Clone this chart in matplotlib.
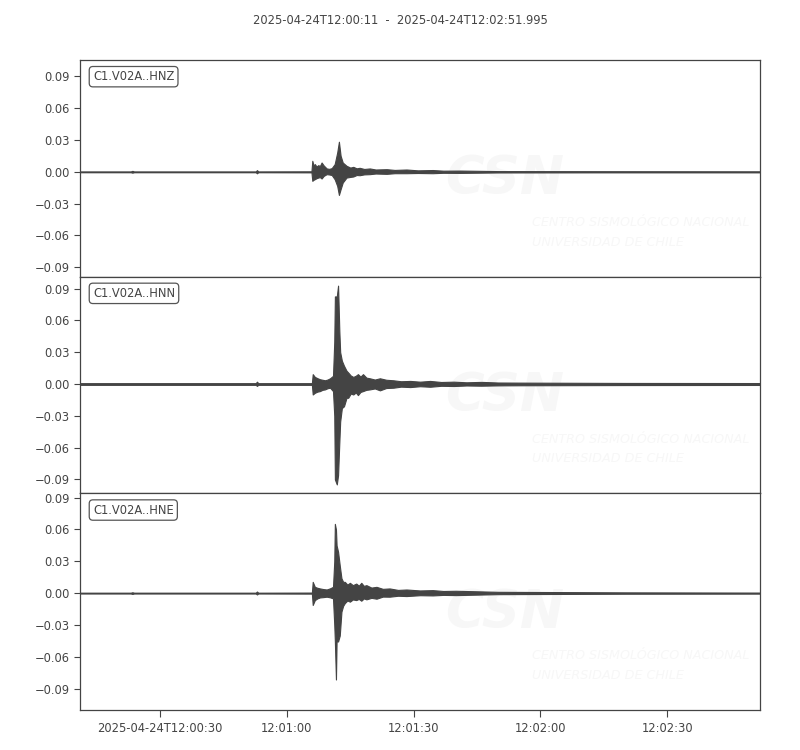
import matplotlib
matplotlib.use('Agg')
import matplotlib.pyplot as plt
import numpy as np

# envelope of each trace, seconds after 2025-04-24T12:00:00 (max / min per time step)
hnz_t = [11.0, 23.0, 23.4, 23.8, 52.6, 52.9, 53.2, 65.8, 66.0, 66.3, 66.6, 67.0, 67.4, 67.8,
         68.2, 68.7, 69.4, 70.0, 70.6, 71.3, 71.9, 72.3, 72.7, 73.2, 74.1, 75.0, 75.7, 76.5,
         77.2, 78.3, 79.6, 81.0, 83.6, 85.5, 88.3, 91.0, 94.5, 97.0, 100.9, 110.0, 134.0,
         171.995]
hnz_max = [0.0004, 0.0004, 0.0009, 0.0004, 0.0004, 0.0016, 0.0004, 0.0005, 0.0104, 0.0060,
           0.0073, 0.0050, 0.0063, 0.0055, 0.0088, 0.0060, 0.0032, 0.0028, 0.0035, 0.0073,
           0.0183, 0.0284, 0.0152, 0.0088, 0.0057, 0.0040, 0.0047, 0.0033, 0.0038, 0.0027,
           0.0032, 0.0022, 0.0025, 0.0018, 0.0022, 0.0014, 0.0017, 0.0011, 0.0012, 0.0007,
           0.0006, 0.0005]
hnz_min = [-0.0004, -0.0004, -0.0008, -0.0004, -0.0004, -0.0014, -0.0004, -0.0005, -0.0085,
           -0.0075, -0.0069, -0.0060, -0.0054, -0.0050, -0.0063, -0.0038, -0.0022, -0.0025,
           -0.0030, -0.0070, -0.0133, -0.0218, -0.0164, -0.0101, -0.0054, -0.0048, -0.0044,
           -0.0030, -0.0032, -0.0024, -0.0022, -0.0016, -0.0019, -0.0013, -0.0013, -0.0011,
           -0.0013, -0.0009, -0.0010, -0.0006, -0.0005, -0.0005]

hnn_t = [11.0, 52.6, 52.9, 53.2, 65.9, 66.1, 66.6, 67.2, 67.8, 68.4, 69.0, 69.6, 70.2, 70.9,
         71.2, 71.35, 71.8, 72.1, 72.4, 72.6, 73.0, 73.5, 74.1, 74.5, 75.1, 75.7, 76.3, 76.8,
         77.4, 78.0, 78.8, 79.6, 80.8, 82.0, 83.5, 85.2, 87.0, 89.2, 91.5, 93.9, 96.5, 99.5,
         102.5, 106.0, 110.0, 115.0, 140.0, 171.995]
hnn_max = [0.0008, 0.0008, 0.0022, 0.0008, 0.0008, 0.0093, 0.0067, 0.0055, 0.0045, 0.0040,
           0.0035, 0.0042, 0.0054, 0.0077, 0.0400, 0.0826, 0.0826, 0.0928, 0.0500, 0.0300,
           0.0220, 0.0172, 0.0125, 0.0108, 0.0080, 0.0067, 0.0078, 0.0093, 0.0070, 0.0093,
           0.0060, 0.0054, 0.0042, 0.0054, 0.0040, 0.0035, 0.0026, 0.0029, 0.0022, 0.0029,
           0.0019, 0.0022, 0.0016, 0.0020, 0.0014, 0.0013, 0.0010, 0.0009]
hnn_min = [-0.0008, -0.0008, -0.0018, -0.0008, -0.0008, -0.0099, -0.0083, -0.0072, -0.0067,
           -0.0055, -0.0051, -0.0040, -0.0035, -0.0067, -0.0300, -0.0900, -0.0947, -0.0860,
           -0.0550, -0.0354, -0.0227, -0.0210, -0.0130, -0.0130, -0.0090, -0.0099, -0.0080,
           -0.0105, -0.0075, -0.0067, -0.0055, -0.0051, -0.0042, -0.0060, -0.0038, -0.0035,
           -0.0025, -0.0029, -0.0021, -0.0026, -0.0017, -0.0019, -0.0014, -0.0016, -0.0013,
           -0.0012, -0.0010, -0.0009]

hne_t = [11.0, 23.0, 23.4, 23.8, 52.6, 52.9, 53.2, 65.9, 66.1, 66.6, 67.2, 67.8, 68.6, 69.4,
         70.2, 70.9, 71.2, 71.34, 71.6, 71.75, 72.1, 72.5, 72.9, 73.3, 73.7, 74.3, 74.9, 75.6,
         76.4, 77.0, 77.6, 78.2, 78.8, 80.0, 81.2, 82.7, 84.3, 86.3, 88.3, 91.5, 94.5, 97.0,
         100.0, 110.0, 140.0, 171.995]
hne_max = [0.0004, 0.0004, 0.0008, 0.0004, 0.0004, 0.0015, 0.0004, 0.0005, 0.0106, 0.0059,
           0.0050, 0.0044, 0.0038, 0.0034, 0.0045, 0.0059, 0.0300, 0.0653, 0.0600, 0.0450,
           0.0390, 0.0260, 0.0140, 0.0106, 0.0106, 0.0080, 0.0097, 0.0075, 0.0090, 0.0070,
           0.0097, 0.0068, 0.0075, 0.0052, 0.0059, 0.0040, 0.0044, 0.0030, 0.0034, 0.0025,
           0.0028, 0.0020, 0.0022, 0.0012, 0.0007, 0.0005]
hne_min = [-0.0004, -0.0004, -0.0008, -0.0004, -0.0004, -0.0013, -0.0004, -0.0005, -0.0112,
           -0.0066, -0.0050, -0.0041, -0.0038, -0.0034, -0.0040, -0.0050, -0.0300, -0.0450,
           -0.0815, -0.0456, -0.0456, -0.0400, -0.0175, -0.0120, -0.0094, -0.0070, -0.0081,
           -0.0060, -0.0066, -0.0055, -0.0072, -0.0050, -0.0059, -0.0045, -0.0053, -0.0033,
           -0.0034, -0.0025, -0.0028, -0.0020, -0.0022, -0.0017, -0.0019, -0.0010, -0.0006,
           -0.0005]

channels = ['C1.V02A..HNZ', 'C1.V02A..HNN', 'C1.V02A..HNE']
t_start, t_end = 11.0, 171.995
title = '2025-04-24T12:00:11  -  2025-04-24T12:02:51.995'
y_ticks = [-0.09, -0.06, -0.03, 0.0, 0.03, 0.06, 0.09]
x_ticks = [30, 60, 90, 120, 150]
x_ticklabels = ['2025-04-24T12:00:30', '12:01:00', '12:01:30', '12:02:00', '12:02:30']

gray = '#444444'
mark = '#f7f7f7'
fs = 8.3
plt.rcParams['font.family'] = 'DejaVu Sans'
plt.rcParams['text.color'] = gray
plt.rcParams['axes.edgecolor'] = gray
plt.rcParams['xtick.color'] = gray
plt.rcParams['ytick.color'] = gray

traces = [(hnz_t, hnz_max, hnz_min), (hnn_t, hnn_max, hnn_min), (hne_t, hne_max, hne_min)]

fig, axes = plt.subplots(3, 1, figsize=(8, 7.5), dpi=100, sharex=True)
fig.subplots_adjust(left=0.1, right=0.95, top=0.92, bottom=0.0533, hspace=0)

# same vertical range for every trace, centred on each trace
half = max(max(hi) - min(lo) for _, hi, lo in traces) / 2 * 1.09

for ax, (t, hi, lo), name in zip(axes, traces, channels):
    # faint logo watermark
    ax.text(0.625, 0.45, 'CSN', transform=ax.transAxes, ha='center', va='center',
            fontsize=38, fontweight='bold', fontstyle='italic', color=mark, zorder=0)
    ax.text(0.665, 0.25, 'CENTRO SISMOLÓGICO NACIONAL', transform=ax.transAxes,
            ha='left', va='center', fontsize=9.2, fontstyle='italic', color=mark, zorder=0)
    ax.text(0.665, 0.16, 'UNIVERSIDAD DE CHILE', transform=ax.transAxes,
            ha='left', va='center', fontsize=9.2, fontstyle='italic', color=mark, zorder=0)

    ax.fill_between(t, lo, hi, color=gray, edgecolor=gray, linewidth=0.8, zorder=2)

    mid = (max(hi) + min(lo)) / 2
    ax.set_ylim(mid - half, mid + half)
    ax.set_yticks(y_ticks)
    ax.set_xlim(t_start, t_end)
    ax.tick_params(labelsize=fs, direction='out', length=4, width=0.8)
    for s in ax.spines.values():
        s.set_linewidth(0.9)

    ax.text(0.019, 0.953, name, transform=ax.transAxes, ha='left', va='top', fontsize=fs,
            bbox=dict(boxstyle='round,pad=0.32', facecolor='white', edgecolor='#555555',
                      linewidth=0.9), zorder=5)

axes[-1].set_xticks(x_ticks)
axes[-1].set_xticklabels(x_ticklabels)
axes[-1].tick_params(axis='x', length=5)
for ax in axes[:-1]:
    ax.tick_params(axis='x', length=0)

fig.suptitle(title, fontsize=fs, y=0.982, color=gray)

plt.savefig('out.png', dpi=100)
